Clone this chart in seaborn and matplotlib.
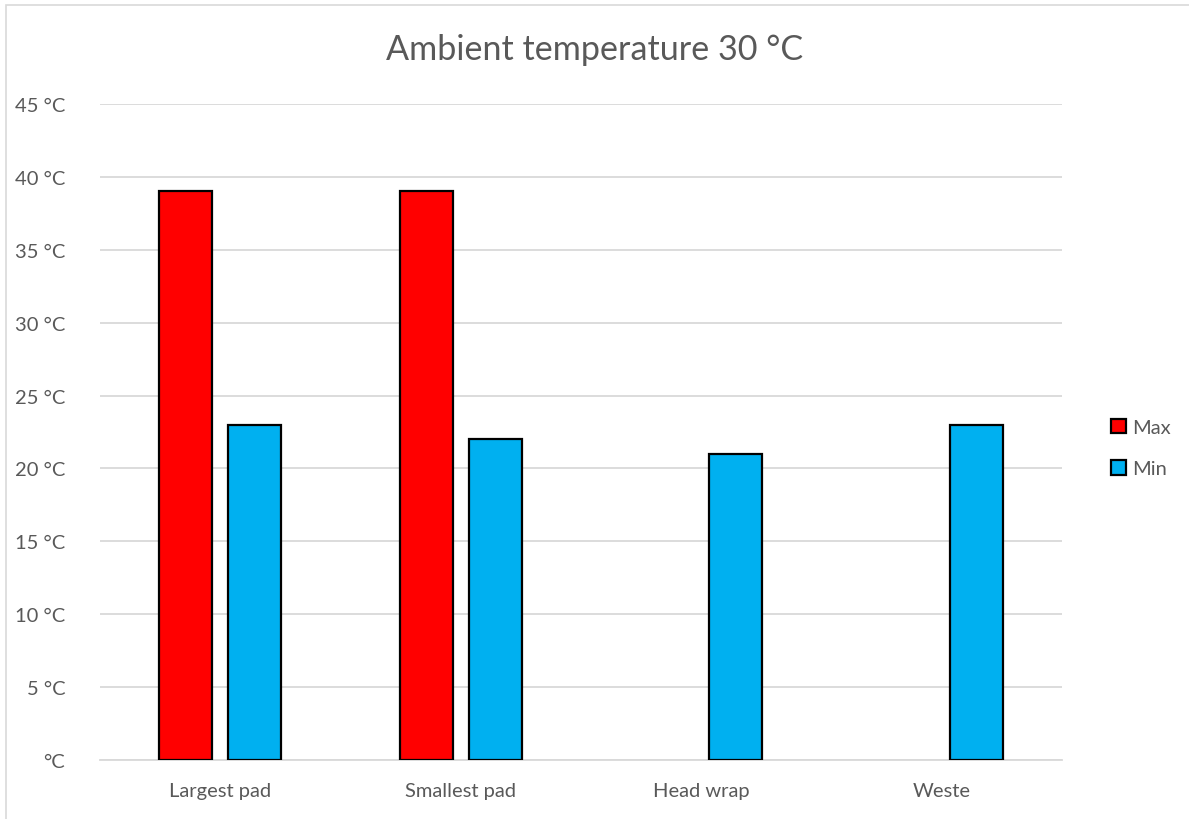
import matplotlib
matplotlib.use("Agg")
import matplotlib.pyplot as plt
from matplotlib.patches import Rectangle, Patch
import numpy as np
import pandas as pd
import seaborn as sns

# Data
categories = ["Largest pad", "Smallest pad", "Head wrap", "Weste"]
max_values = [39, 39, np.nan, np.nan]
min_values = [23, 22, 21, 23]
series_names = ["Max", "Min"]
series_colors = {"Max": "#FF0000", "Min": "#00B0F0"}
y_ticks = [0, 5, 10, 15, 20, 25, 30, 35, 40, 45]
title = "Ambient temperature 30 °C"

rows = []
for cat, mx, mn in zip(categories, max_values, min_values):
    rows.append({"category": cat, "series": "Max", "value": mx})
    rows.append({"category": cat, "series": "Min", "value": mn})
df = pd.DataFrame(rows).dropna()

sns.set_theme(style="white")
plt.rcParams["font.family"] = ["Lato", "DejaVu Sans"]
text_color = "#595959"
grid_color = "#D9D9D9"

fig = plt.figure(figsize=(11.89, 8.20), dpi=100)
ax = fig.add_axes([100 / 1189, 1 - 761 / 820, 962 / 1189, (761 - 105) / 820])

# Chart-area frame
fig.patches.append(Rectangle((6 / 1189, -0.05), 1.2, 1 - 6 / 820 + 0.05,
                             transform=fig.transFigure, fill=False,
                             edgecolor="#D9D9D9", linewidth=1.2, zorder=0))

sns.barplot(data=df, x="category", y="value", hue="series",
            order=categories, hue_order=series_names, palette=series_colors,
            width=0.574, gap=0.233, edgecolor="black", linewidth=1.6,
            saturation=1, errorbar=None, legend=False, ax=ax, zorder=3)

ax.set_xlim(-0.5, len(categories) - 0.5)
ax.set_ylim(0, 45)
ax.set_yticks(y_ticks)
ax.set_yticklabels(["°C" if t == 0 else f"{t} °C" for t in y_ticks])
ax.yaxis.grid(True, color=grid_color, linewidth=1.3, zorder=0)
ax.set_axisbelow(True)
for s in ["top", "right", "left"]:
    ax.spines[s].set_visible(False)
ax.spines["bottom"].set_color(grid_color)
ax.spines["bottom"].set_linewidth(1.3)
ax.tick_params(axis="both", length=0, colors=text_color, labelsize=14.5)
ax.tick_params(axis="y", pad=25)
ax.tick_params(axis="x", pad=16)
ax.set_xlabel("")
ax.set_ylabel("")

fig.text(0.5, 1 - 50 / 820, title, ha="center", va="center",
         fontsize=24.6, color=text_color)

handles = [Patch(facecolor=series_colors[n], edgecolor="black", linewidth=1.6)
           for n in series_names]
leg = fig.legend(handles, series_names, loc="center left",
                 bbox_to_anchor=(1093 / 1189, 1 - 449 / 820),
                 frameon=False, fontsize=14.5, handlelength=0.75,
                 handleheight=0.75, handletextpad=0.3, labelspacing=1.2)
for t in leg.get_texts():
    t.set_color(text_color)

fig.savefig("out.png", dpi=100)
